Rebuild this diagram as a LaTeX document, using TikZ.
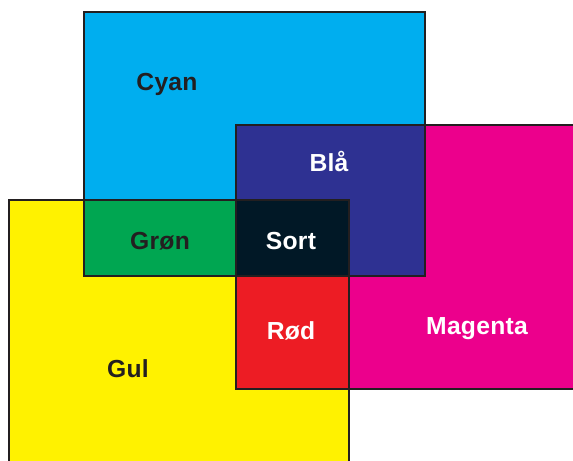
\documentclass[tikz,border=0pt]{standalone}
\usepackage{fontspec}
\setmainfont{Liberation Sans}[LetterSpace=1]
\definecolor{inkcyan}{HTML}{00AEEF}
\definecolor{inkmagenta}{HTML}{EC008C}
\definecolor{inkyellow}{HTML}{FFF200}
\definecolor{inkblue}{HTML}{2E3192}
\definecolor{inkgreen}{HTML}{00A651}
\definecolor{inkred}{HTML}{ED1C24}
\definecolor{inkblack}{HTML}{011826}
\definecolor{inkline}{HTML}{231F20}
\begin{document}
\begin{tikzpicture}[
            x=0.75pt,
            y=-0.75pt,
            edge/.style={
                    draw=inkline,
                    line width=2pt
                },
            label/.style={
                    font=\bfseries\fontsize{18.5}{21}\selectfont,
                    text=inkline,
                    anchor=base,
                    inner sep=0pt
                },
            whitelabel/.style={
                    label,
                    text=white
                }
        ]

        \useasboundingbox (0, 0) rectangle (573, 460);
        \clip (0, 0) rectangle (573, 460);

        % ---- Primary inks ----
        \fill[inkcyan] (84, 12) rectangle (425, 276);
        \fill[inkmagenta] (236, 125) rectangle (600, 389);
        \fill[inkyellow] (9, 200) rectangle (349, 480);

        % ---- Overlaps ----
        \fill[inkblue] (236, 125) rectangle (425, 276);
        \fill[inkgreen] (84, 200) rectangle (349, 276);
        \fill[inkred] (236, 200) rectangle (349, 389);
        \fill[inkblack] (236, 200) rectangle (349, 276);

        % ---- Outlines ----
        \draw[edge] (84, 12) rectangle (425, 276);
        \draw[edge] (236, 125) rectangle (600, 389);
        \draw[edge] (9, 200) rectangle (349, 480);

        \node[label] (cyan) at (167, 90) {Cyan};
        \node[whitelabel] (blaa) at (329, 171) {Blå};
        \node[label] (groen) at (160, 249) {Grøn};
        \node[whitelabel] (sort) at (291, 249) {Sort};
        \node[whitelabel] (roed) at (291, 339) {Rød};
        \node[whitelabel] (magenta) at (477, 334) {Magenta};
        \node[label] (gul) at (128, 377) {Gul};

    \end{tikzpicture}
\end{document}
